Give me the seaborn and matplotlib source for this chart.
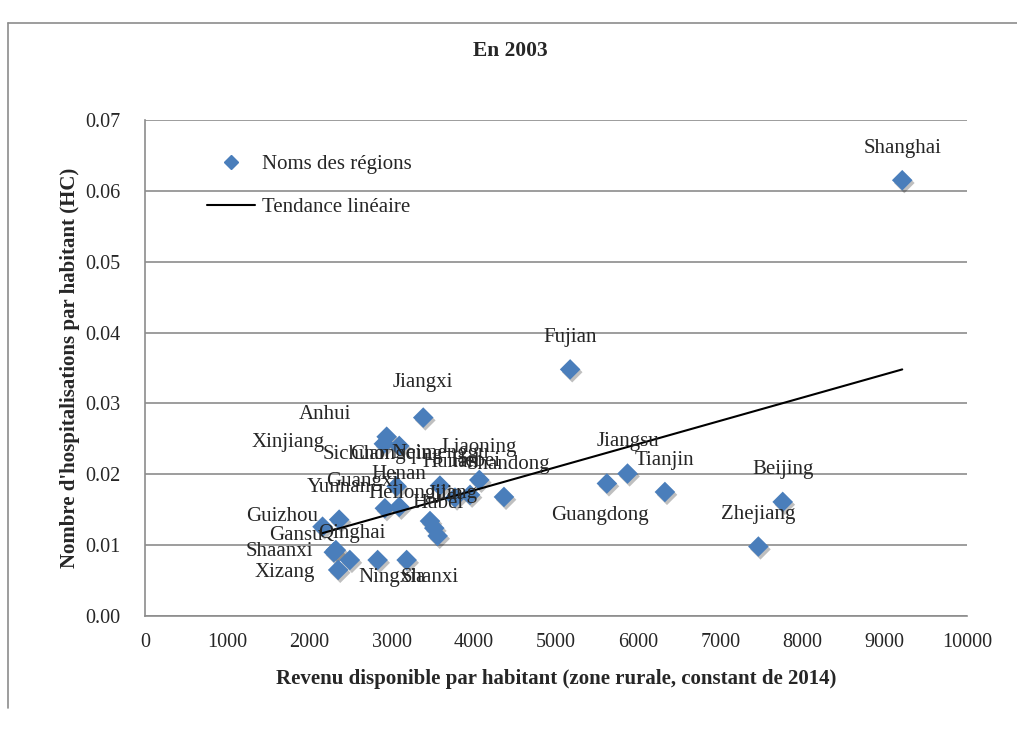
import matplotlib
matplotlib.use("Agg")
import matplotlib.pyplot as plt
import matplotlib.patheffects as pe
from matplotlib.lines import Line2D
import numpy as np
import pandas as pd
import seaborn as sns

# data (2003)
regions = ["Shanghai", "Fujian", "Jiangxi", "Anhui", "Xinjiang", "Sichuan",
           "Chongqing", "Neimenggu", "Hebei", "Hunan", "Liaoning", "Shandong",
           "Henan", "Guangxi", "Yunnan", "Heilongjiang", "Jilin", "Hubei",
           "Guizhou", "Gansu", "Shaanxi", "Qinghai", "Xizang", "Ningxia",
           "Shanxi", "Jiangsu", "Guangdong", "Tianjin", "Beijing", "Zhejiang"]
revenu = [9212, 5172, 3385, 2940, 2906, 3093,
          3061, 3588, 3954, 3771, 4067, 4367,
          3093, 2918, 2362, 3467, 3519, 3560,
          2160, 2322, 2297, 2492, 2350, 2830,
          3183, 5870, 5619, 6325, 7758, 7462]
hospit = [0.0615, 0.0348, 0.0280, 0.0253, 0.0243, 0.0240,
          0.0183, 0.0184, 0.0171, 0.0167, 0.0192, 0.0168,
          0.0154, 0.0152, 0.0136, 0.0134, 0.0124, 0.0113,
          0.0126, 0.0093, 0.0090, 0.0079, 0.0065, 0.0079,
          0.0079, 0.0201, 0.0187, 0.0175, 0.0161, 0.0098]

# linear trend as drawn in the chart (end points)
trend_x = [2160, 9212]
trend_y = [0.0117, 0.0348]

# label offsets in pixels (dx right, dy down)
label_offset = {
    "Anhui": (-62, -22), "Xinjiang": (-96, -1), "Sichuan": (-43, 9),
    "Guangxi": (-23, -27), "Heilongjiang": (-7, -28), "Jilin": (11, -34),
    "Guizhou": (-40, -10), "Gansu": (-40, -15), "Shaanxi": (-54, -1),
    "Xizang": (-53, 3), "Ningxia": (14, 17), "Shanxi": (23, 17),
    "Guangdong": (-7, 32), "Shandong": (4, -32), "Hebei": (5, -33),
    "Hunan": (-5, -35), "Qinghai": (2, -27), "Jiangxi": (0, -35),
}

df = pd.DataFrame({"region": regions, "revenu": revenu, "hospit": hospit})
df_trend = pd.DataFrame({"x": trend_x, "y": trend_y})

sns.set_style("white")
plt.rcParams["font.family"] = ["Liberation Serif", "DejaVu Serif"]

fig = plt.figure(figsize=(10.17, 7.35), dpi=100)
ax = fig.add_axes([145 / 1017, 1 - 616 / 735, 822 / 1017, 496 / 735])

blue = "#4a7ebb"
sns.scatterplot(data=df, x="revenu", y="hospit", ax=ax, marker="D", s=110,
                color=blue, edgecolor="none", zorder=3, legend=False,
                path_effects=[pe.SimplePatchShadow(offset=(1.5, -2),
                                                   shadow_rgbFace="black",
                                                   alpha=0.25),
                              pe.Normal()])
sns.lineplot(data=df_trend, x="x", y="y", ax=ax, color="black", lw=1.5,
             zorder=4, legend=False)

for name, x, y in zip(regions, revenu, hospit):
    dx, dy = label_offset.get(name, (0, -32))
    ax.annotate(name, (x, y), xytext=(dx, -dy), textcoords="offset pixels",
                ha="center", va="center", fontsize=15, zorder=5)

ax.set_xlim(0, 10000)
ax.set_ylim(0, 0.07)
ax.set_xticks(np.arange(0, 10001, 1000))
ax.set_yticks(np.arange(0, 0.071, 0.01))
ax.set_yticklabels([f"{v:.2f}" for v in np.arange(0, 0.071, 0.01)])
ax.yaxis.grid(True, color="#8c8c8c", lw=1.2)
ax.xaxis.grid(False)
ax.set_axisbelow(True)
for side in ["top", "right"]:
    ax.spines[side].set_visible(False)
for side in ["left", "bottom"]:
    ax.spines[side].set_color("#8c8c8c")
    ax.spines[side].set_linewidth(1.2)
ax.tick_params(axis="y", direction="out", length=4.5, width=1.2,
               color="#8c8c8c", labelsize=14.5, pad=13)
ax.tick_params(axis="x", direction="out", length=4.5, width=1.2,
               color="#8c8c8c", labelsize=14.5, pad=8)

ax.set_xlabel("Revenu disponible par habitant (zone rurale, constant de 2014)",
              fontsize=15, fontweight="bold", labelpad=12)
ax.set_ylabel("Nombre d'hospitalisations par habitant (HC)",
              fontsize=15, fontweight="bold", labelpad=4)
fig.text(510 / 1017, 1 - 51 / 735, "En 2003", ha="center", va="center",
         fontsize=15.5, fontweight="bold")

handles = [Line2D([], [], marker="D", color=blue, ls="none", markersize=7),
           Line2D([], [], color="black", lw=1.5)]
ax.legend(handles, ["Noms des régions", "Tendance linéaire"], loc="upper left",
          bbox_to_anchor=(0.0754, 0.93), frameon=False, fontsize=15,
          borderpad=0, borderaxespad=0, handlelength=2.3,
          labelspacing=1.1, handletextpad=0.35)

# chart area border (top and left edges visible)
fig.add_artist(Line2D([8 / 1017, 1], [1 - 23 / 735] * 2, color="#8c8c8c", lw=1.2))
fig.add_artist(Line2D([8 / 1017] * 2, [1 - 23 / 735, 1 - 708 / 735],
                      color="#8c8c8c", lw=1.2))

fig.savefig("out.png", dpi=100)
